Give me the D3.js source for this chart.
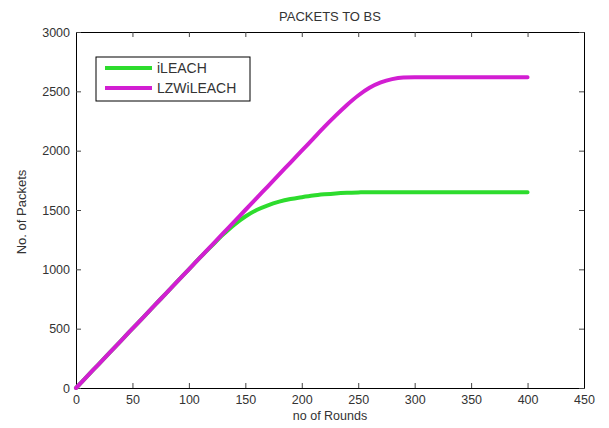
<!DOCTYPE html>
<html>
<head>
<meta charset="utf-8">
<script src="https://cdn.jsdelivr.net/npm/d3@7"></script>
<style>
  body { margin: 0; background: #fff; }
  text { font-family: "Liberation Sans", Arial, sans-serif; fill: #333; }
</style>
</head>
<body>
<svg class="chart" width="609" height="428"></svg>
<script>
// rounds sampled every 10
const rounds = d3.range(0, 401, 10)
const iLeach = [0, 100, 200, 300, 400, 500, 600, 700, 800, 900, 1000, 1100, 1195, 1290, 1375, 1445, 1500, 1540, 1570, 1592, 1608,
  1622, 1632, 1640, 1645, 1648, 1650, 1650, 1650, 1650, 1650, 1650, 1650, 1650, 1650, 1650, 1650, 1650, 1650, 1650, 1650]
const lzwLeach = [0, 100, 200, 300, 400, 500, 600, 700, 800, 900, 1000, 1100, 1200, 1300, 1400, 1500, 1600, 1700, 1800, 1900, 2000,
  2100, 2200, 2295, 2385, 2465, 2530, 2575, 2603, 2616, 2618, 2618, 2618, 2618, 2618, 2618, 2618, 2618, 2618, 2618, 2618]
const seriesNames = ['iLEACH', 'LZWiLEACH']
const seriesColors = ['#2ddc2d', '#d21ed2']
const xTicks = d3.range(0, 451, 50)
const yTicks = d3.range(0, 3001, 500)

const plotLeft = 76, plotRight = 584, plotTop = 32, plotBottom = 388

const svg = d3.select('svg.chart')
const x = d3.scaleLinear().domain([0, 450]).range([plotLeft, plotRight])
const y = d3.scaleLinear().domain([0, 3000]).range([plotBottom, plotTop])
const fmt = d3.format('d')

// frame with inward ticks on all sides
svg.append('g').attr('transform', `translate(0,${plotBottom})`)
  .call(d3.axisBottom(x).tickValues(xTicks).tickFormat(fmt).tickSizeInner(-5).tickSizeOuter(0).tickPadding(7))
svg.append('g').attr('transform', `translate(0,${plotTop})`)
  .call(d3.axisTop(x).tickValues(xTicks).tickSizeInner(-5).tickSizeOuter(0).tickFormat(''))
svg.append('g').attr('transform', `translate(${plotLeft},0)`)
  .call(d3.axisLeft(y).tickValues(yTicks).tickFormat(fmt).tickSizeInner(-5).tickSizeOuter(0).tickPadding(6))
svg.append('g').attr('transform', `translate(${plotRight},0)`)
  .call(d3.axisRight(y).tickValues(yTicks).tickSizeInner(-5).tickSizeOuter(0).tickFormat(''))

svg.selectAll('.domain').attr('stroke', '#000')
svg.selectAll('.tick line').attr('stroke', '#444')
svg.selectAll('.tick text').style('font-size', '12.5px').attr('fill', '#333')

const line = d3.line().curve(d3.curveMonotoneX).x((d, i) => x(rounds[i])).y(d => y(d))
const data = [iLeach, lzwLeach]

svg.selectAll('.series')
  .data(data)
  .enter()
  .append('path')
  .attr('class', 'series')
  .attr('d', line)
  .attr('fill', 'none')
  .attr('stroke', (d, i) => seriesColors[i])
  .attr('stroke-width', 4)
  .attr('stroke-linejoin', 'round')
  .attr('stroke-linecap', 'round')

// title and labels
svg.append('text').attr('x', 330).attr('y', 21).attr('text-anchor', 'middle')
  .style('font-size', '13px').text('PACKETS TO BS')
svg.append('text').attr('x', 330).attr('y', 420).attr('text-anchor', 'middle')
  .style('font-size', '12.5px').text('no of Rounds')
svg.append('text').attr('transform', 'translate(26,212) rotate(-90)').attr('text-anchor', 'middle')
  .style('font-size', '13px').text('No. of Packets')

// legend
const legend = svg.append('g')
legend.append('rect').attr('x', 96).attr('y', 57).attr('width', 154).attr('height', 44)
  .attr('fill', '#fff').attr('stroke', '#000').attr('stroke-width', 1)
seriesNames.forEach((name, i) => {
  const ly = 68 + i * 20
  legend.append('line').attr('x1', 105).attr('x2', 152).attr('y1', ly).attr('y2', ly)
    .attr('stroke', seriesColors[i]).attr('stroke-width', 4)
  legend.append('text').attr('x', 157).attr('y', ly + 5)
    .style('font-size', '14px').text(name)
})
</script>
</body>
</html>
